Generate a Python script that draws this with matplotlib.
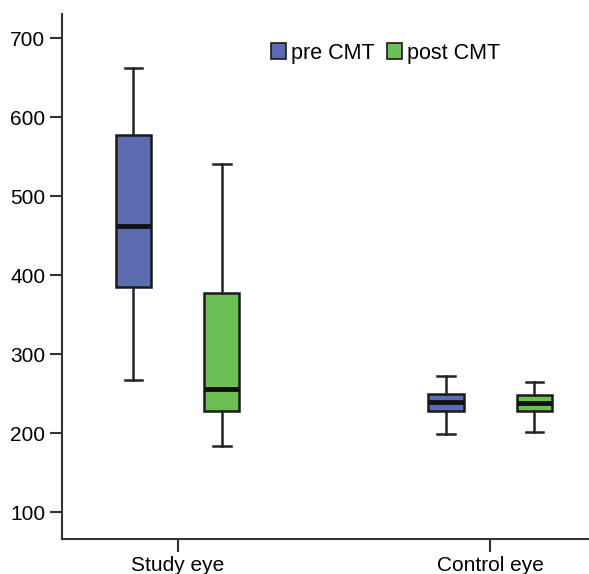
import matplotlib
matplotlib.use("Agg")
import matplotlib.pyplot as plt
from matplotlib.patches import Patch

plt.rcParams['font.family'] = ['Liberation Sans', 'DejaVu Sans']

# box stats (whisker low, Q1, median, Q3, whisker high)
groups = ["Study eye", "Control eye"]
series = ["pre CMT", "post CMT"]
pre_low = [267, 199]
pre_q1 = [385, 228]
pre_med = [463, 240]
pre_q3 = [578, 250]
pre_high = [663, 272]
post_low = [184, 201]
post_q1 = [228, 228]
post_med = [256, 238]
post_q3 = [377, 248]
post_high = [541, 265]

colors = ["#5b6db0", "#6cbf55"]


def make_stats(low, q1, med, q3, high):
    return [dict(whislo=low[i], q1=q1[i], med=med[i], q3=q3[i], whishi=high[i], fliers=[])
            for i in range(len(groups))]


fig = plt.figure(figsize=(5.89, 5.74), dpi=100)
ax = fig.add_axes([0.1053, 0.061, 0.8947, 0.9146])

offset = 0.1415
width = 0.112
centers = [1, 2]
for k, (stats, col) in enumerate([(make_stats(pre_low, pre_q1, pre_med, pre_q3, pre_high), colors[0]),
                                  (make_stats(post_low, post_q1, post_med, post_q3, post_high), colors[1])]):
    pos = [c + (k * 2 - 1) * offset for c in centers]
    ax.bxp(stats, positions=pos, widths=width, patch_artist=True, showfliers=False,
           boxprops=dict(facecolor=col, edgecolor="#1a1a1a", linewidth=1.8),
           medianprops=dict(color="#111111", linewidth=3.5),
           whiskerprops=dict(color="#222222", linewidth=1.8),
           capprops=dict(color="#222222", linewidth=1.8),
           capwidths=width * 0.5, manage_ticks=False)

ax.set_xlim(0.63, 2.316)
ax.set_ylim(66, 731)
ax.set_xticks(centers)
ax.set_xticklabels(groups)
ax.set_yticks([100, 200, 300, 400, 500, 600, 700])
ax.tick_params(labelsize=15, length=9, width=1.5, color="#333333", pad=3)
for s in ["top", "right"]:
    ax.spines[s].set_visible(False)
for s in ["left", "bottom"]:
    ax.spines[s].set_linewidth(1.5)
    ax.spines[s].set_color("#333333")

handles = [Patch(facecolor=c, edgecolor="#1a1a1a", linewidth=1.2) for c in colors]
ax.legend(handles, series, loc="center left", bbox_to_anchor=(0.396, 0.925), ncol=2,
          frameon=False, fontsize=15.5, handlelength=0.7, handleheight=0.75,
          handletextpad=0.25, columnspacing=0.55, borderaxespad=0, borderpad=0)

fig.savefig("out.png", dpi=100)
